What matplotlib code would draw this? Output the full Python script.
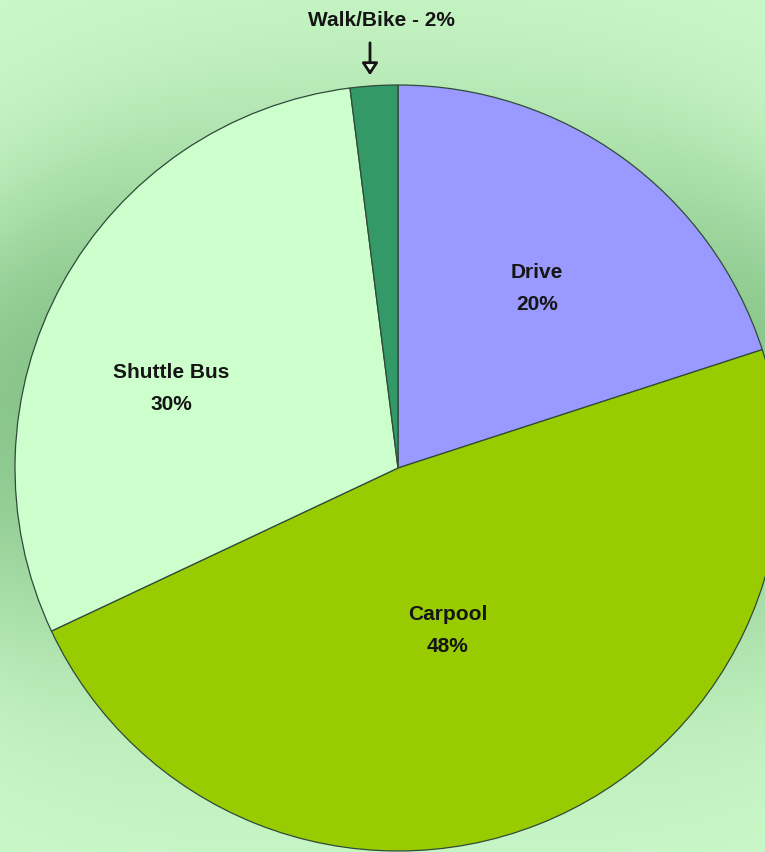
import numpy as np
import matplotlib
matplotlib.use("Agg")
import matplotlib.pyplot as plt
from matplotlib.patches import FancyArrowPatch

categories = ["Drive", "Carpool", "Shuttle Bus", "Walk/Bike"]
values = [20, 48, 30, 2]
colors = ["#9999FF", "#99CC00", "#CCFFCC", "#339966"]

W, H = 765, 852
fig = plt.figure(figsize=(W / 100, H / 100), dpi=100)
ax = fig.add_axes([0, 0, 1, 1])
ax.set_xlim(0, W)
ax.set_ylim(0, H)
ax.set_aspect("equal")
ax.axis("off")

cx, cy, R = 398, H - 468, 383

# background: light green with darker soft glow around the pie
yy, xx = np.mgrid[0:H, 0:W]
r = np.hypot(xx - cx, (H - yy) - cy)
d = np.clip(r - R, 0, None)
shadow = np.exp(-(d / 150.0) ** 2)
vert = np.exp(-(((H - yy) - (H - 390)) / 270.0) ** 2)
w = 0.8 * shadow * vert
light = np.array([202, 248, 200]) / 255.0
dark = np.array([122, 186, 124]) / 255.0
img = light[None, None, :] * (1 - w[..., None]) + dark[None, None, :] * w[..., None]
ax.imshow(img, extent=(0, W, 0, H), origin="upper", zorder=0)

wedges, _ = ax.pie(values, colors=colors, startangle=90, counterclock=False,
                   center=(cx, cy), radius=R, frame=True,
                   wedgeprops=dict(edgecolor="#2f4a3a", linewidth=0.9))
for wdg in wedges:
    wdg.set_zorder(2)
ax.set_xlim(0, W)
ax.set_ylim(0, H)
ax.axis("off")

font = dict(family="Liberation Sans", fontweight="bold", fontsize=15,
            color="#151515", ha="center", va="center", zorder=3)
label_pos = {"Drive": (537, 272), "Carpool": (448, 615), "Shuttle Bus": (171, 372)}
for cat, val in zip(categories, values):
    if cat in label_pos:
        x, y = label_pos[cat]
        ax.text(x, H - y, cat, **font)
        ax.text(x, H - y - 32, f"{val}%", **font)

ax.text(381, H - 21, f"{categories[3]} - {values[3]}%", **font)
arr = FancyArrowPatch((370, H - 40), (370, H - 78), arrowstyle="-|>,head_length=4.5,head_width=3",
                      mutation_scale=1.6, facecolor="#e8ffe8", edgecolor="#151515",
                      linewidth=2.0, zorder=3)
ax.add_patch(arr)

fig.savefig("out.png", dpi=100)
